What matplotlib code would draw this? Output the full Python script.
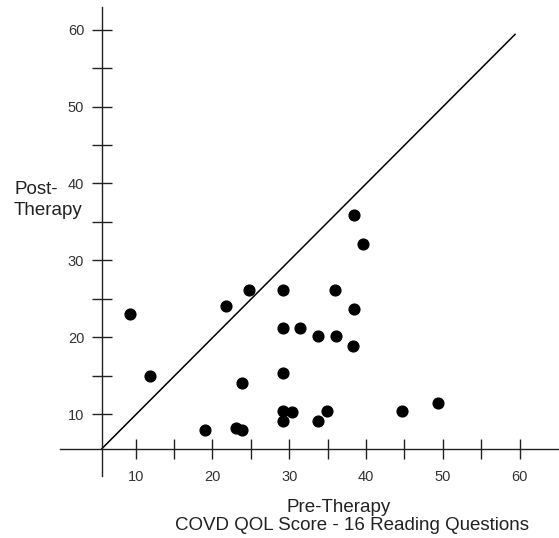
import matplotlib.pyplot as plt

plt.rcParams['font.family'] = ['Liberation Sans', 'DejaVu Sans']

# pre-therapy vs post-therapy COVD QOL scores
pre_therapy = [9.2, 11.9, 21.8, 24.8, 29.2, 29.2, 29.2, 38.4, 39.6, 36.0,
               38.4, 31.4, 33.7, 36.1, 38.3, 23.9, 19.0, 23.0, 23.9, 29.2,
               29.2, 30.4, 33.7, 34.9, 44.7, 49.3]
post_therapy = [23.0, 15.0, 24.1, 26.2, 26.2, 21.2, 15.3, 35.9, 32.1, 26.1,
                23.7, 21.2, 20.2, 20.2, 18.8, 14.0, 7.9, 8.2, 7.9, 10.4,
                9.1, 10.2, 9.1, 10.4, 10.4, 11.5]

ticks = list(range(10, 65, 5))
tick_labels = [str(t) if t % 10 == 0 else '' for t in ticks]

# where the two axes cross and how far the y = x line runs
origin_x, origin_y = 5.6, 5.5
diag_end = 59.4

W, H = 559, 538
fig = plt.figure(figsize=(W / 100, H / 100), dpi=100)
ax = fig.add_axes([0, 0, 1, 1])
ax.set_xlim(-7.67, 65.12)
ax.set_ylim(-6.13, 63.87)

for side in ('top', 'right'):
    ax.spines[side].set_visible(False)
ax.spines['left'].set_position(('data', origin_x))
ax.spines['bottom'].set_position(('data', origin_y))
ax.spines['left'].set_bounds(1.9, 62.9)
ax.spines['bottom'].set_bounds(0.2, 65.1)
for side in ('left', 'bottom'):
    ax.spines[side].set_linewidth(1.0)
    ax.spines[side].set_color('#222222')

ax.set_xticks(ticks)
ax.set_xticklabels(tick_labels)
ax.set_yticks(ticks)
ax.set_yticklabels(tick_labels)
ax.tick_params(axis='x', direction='inout', length=13.7, width=1.0,
               color='#222222', pad=8.8, labelsize=10.5, labelcolor='#333333')
ax.tick_params(axis='y', direction='inout', length=14.4, width=1.0,
               color='#222222', pad=5.5, labelsize=10.5, labelcolor='#333333')

ax.plot([origin_x, diag_end], [origin_y, diag_end], color='black', lw=1.1)
ax.scatter(pre_therapy, post_therapy, s=60, color='black', zorder=3)

fig.text(14 / W, 1 - 194 / H, 'Post-', fontsize=13.5, color='#222222',
         ha='left', va='baseline')
fig.text(14 / W, 1 - 215 / H, 'Therapy', fontsize=13.5, color='#222222',
         ha='left', va='baseline')
fig.text(287 / W, 1 - 511.5 / H, 'Pre-Therapy', fontsize=13.5,
         color='#222222', ha='left', va='baseline')
fig.text(175 / W, 1 - 530 / H, 'COVD QOL Score - 16 Reading Questions',
         fontsize=13.5, color='#222222', ha='left', va='baseline')

fig.savefig('out.png', dpi=100)
